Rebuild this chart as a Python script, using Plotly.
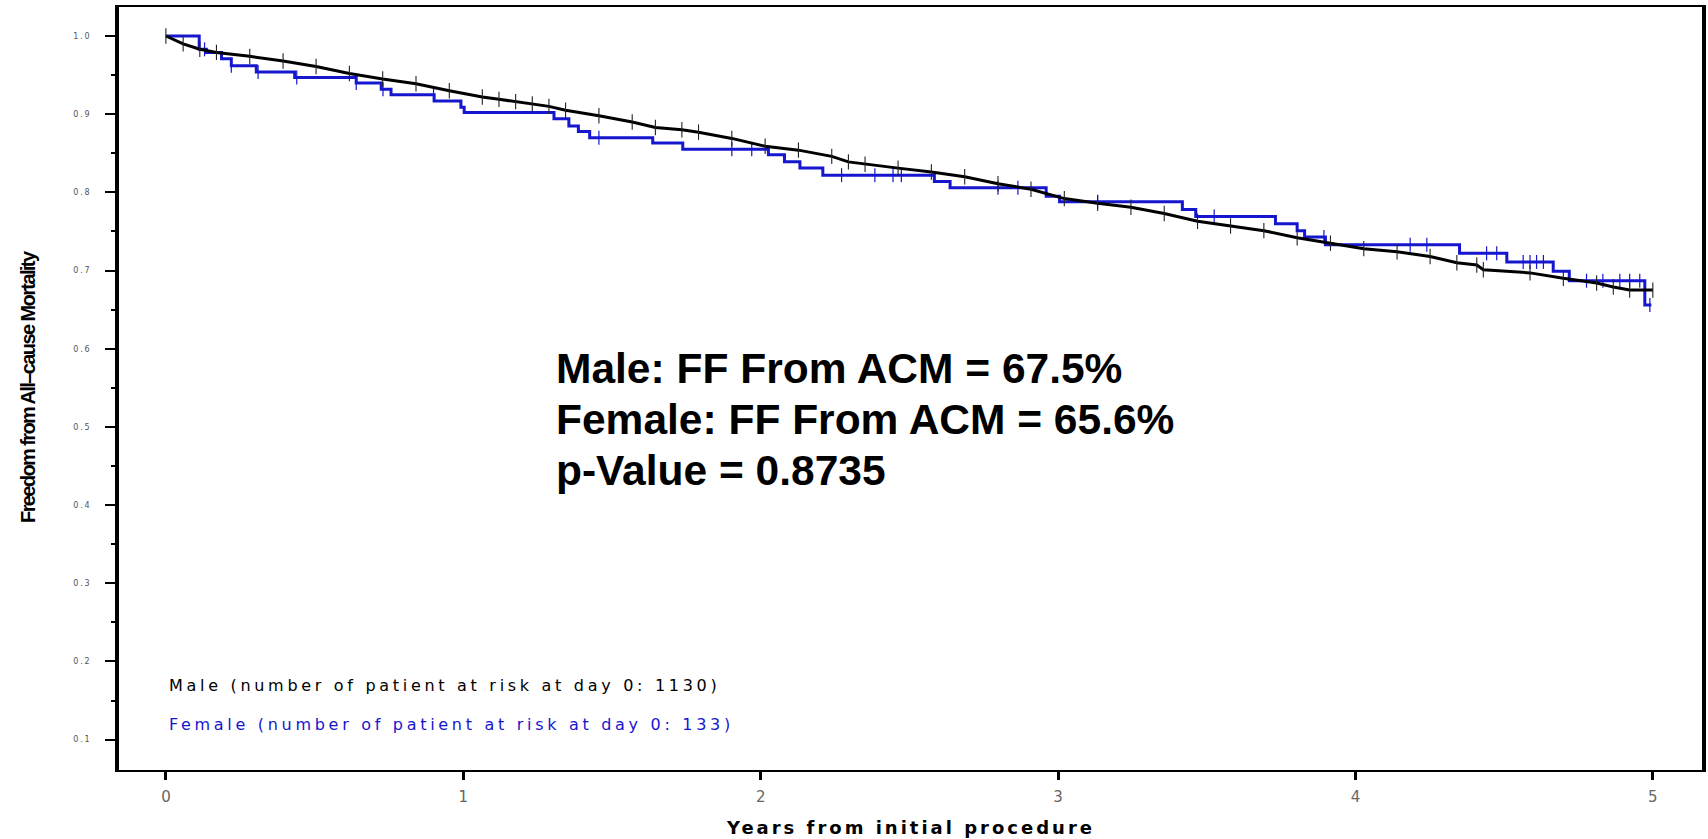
import plotly.graph_objects as go

# ---------------- data ----------------
male_t = [0.0, 0.058, 0.114, 0.170, 0.282, 0.394, 0.505, 0.617, 0.729, 0.841, 0.953,
          1.064, 1.120, 1.176, 1.232, 1.288, 1.344, 1.456, 1.568, 1.646, 1.735, 1.791,
          1.903, 2.015, 2.127, 2.239, 2.295, 2.351, 2.462, 2.574, 2.686, 2.798, 2.909,
          3.021, 3.133, 3.245, 3.357, 3.469, 3.580, 3.692, 3.804, 3.916, 4.028, 4.140,
          4.251, 4.341, 4.408, 4.430, 4.587, 4.699, 4.811, 4.867, 4.922, 5.0]
male_s = [1.0, 0.990, 0.983, 0.979, 0.974, 0.968, 0.961, 0.952, 0.945, 0.939, 0.930,
          0.922, 0.919, 0.916, 0.913, 0.910, 0.905, 0.898, 0.890, 0.883, 0.880, 0.877,
          0.869, 0.859, 0.854, 0.846, 0.839, 0.836, 0.831, 0.826, 0.820, 0.811, 0.804,
          0.792, 0.786, 0.781, 0.773, 0.763, 0.757, 0.751, 0.742, 0.735, 0.728, 0.724,
          0.718, 0.710, 0.707, 0.701, 0.697, 0.690, 0.684, 0.679, 0.675, 0.675]

female_t = [0.0, 0.112, 0.136, 0.187, 0.220, 0.304, 0.433, 0.640, 0.724, 0.757, 0.902,
            0.992, 1.003, 1.305, 1.355, 1.387, 1.425, 1.637, 1.738, 2.026, 2.080, 2.132,
            2.209, 2.584, 2.637, 2.960, 3.005, 3.418, 3.463, 3.731, 3.804, 3.829, 3.899,
            4.350, 4.509, 4.665, 4.719, 4.973, 4.995]
female_s = [1.0, 0.983, 0.979, 0.971, 0.962, 0.954, 0.947, 0.940, 0.932, 0.925, 0.917,
            0.909, 0.902, 0.894, 0.885, 0.878, 0.870, 0.863, 0.855, 0.848, 0.839, 0.831,
            0.822, 0.814, 0.806, 0.795, 0.788, 0.778, 0.769, 0.760, 0.751, 0.743, 0.733,
            0.722, 0.711, 0.699, 0.687, 0.656, 0.656]
female_censor_t = [0.13, 0.22, 0.31, 0.44, 0.64, 0.73, 0.90, 1.456, 1.903, 1.970, 2.272,
                   2.384, 2.445, 2.473, 2.798, 2.865, 3.133, 3.525, 3.894, 4.184, 4.240,
                   4.441, 4.475, 4.564, 4.587, 4.609, 4.632, 4.777, 4.832, 4.889, 4.922,
                   4.956, 4.99]

y_ticks = [0.1, 0.2, 0.3, 0.4, 0.5, 0.6, 0.7, 0.8, 0.9, 1.0]
y_tick_labels = ["0.1", "0.2", "0.3", "0.4", "0.5", "0.6", "0.7", "0.8", "0.9", "1.0"]
y_minor = [0.15, 0.25, 0.35, 0.45, 0.55, 0.65, 0.75, 0.85, 0.95]
x_ticks = [0, 1, 2, 3, 4, 5]
x_tick_labels = ["0", "1", "2", "3", "4", "5"]

male_label = "Male (number of patient at risk at day 0: 1130)"
female_label = "Female (number of patient at risk at day 0: 133)"
stats_lines = ["Male: FF From ACM = 67.5%", "Female: FF From ACM = 65.6%", "p-Value = 0.8735"]
stats_y = [0.5753, 0.5095, 0.4442]
x_title = "Years from initial procedure"
y_title = "Freedom from All\u2013cause Mortality"

BLUE = "#1616cf"


def step_value(ts, ss, t):
    idx = 0
    for i, v in enumerate(ts):
        if v <= t:
            idx = i
    return ss[idx]


female_censor_s = [step_value(female_t, female_s, t) for t in female_censor_t]


def spaced(text, px):
    return '<span style="letter-spacing:%spx">%s</span>' % (px, text)


fig = go.Figure()

fig.add_trace(go.Scatter(
    x=female_t, y=female_s, mode="lines", line=dict(color=BLUE, width=3, shape="hv"),
    showlegend=False, hoverinfo="skip"))
fig.add_trace(go.Scatter(
    x=female_censor_t, y=female_censor_s, mode="markers",
    marker=dict(symbol="line-ns-open", size=10, color=BLUE, line=dict(color=BLUE, width=1.2)),
    showlegend=False, hoverinfo="skip"))
fig.add_trace(go.Scatter(
    x=male_t, y=male_s, mode="lines+markers", line=dict(color="black", width=3),
    marker=dict(symbol="line-ns-open", size=11, color="#222", line=dict(color="#222", width=1.1)),
    showlegend=False, hoverinfo="skip"))

# legend-like labels
fig.add_annotation(x=0.003, y=0.1688, xref="x", yref="y", text=spaced(male_label, 3.7),
                   showarrow=False, xanchor="left", yanchor="middle",
                   font=dict(family="DejaVu Sans", size=16, color="black"))
fig.add_annotation(x=0.003, y=0.119, xref="x", yref="y", text=spaced(female_label, 3.7),
                   showarrow=False, xanchor="left", yanchor="middle",
                   font=dict(family="DejaVu Sans", size=16, color=BLUE))

# stats block
for line, yv in zip(stats_lines, stats_y):
    fig.add_annotation(x=1.305, y=yv, xref="x", yref="y", text="<b>%s</b>" % line,
                       showarrow=False, xanchor="left", yanchor="middle", align="left",
                       font=dict(family="Liberation Sans", size=42.5, color="black"))

# axis titles (paper coordinates)
fig.add_annotation(x=0.5, y=-0.076, xref="paper", yref="paper",
                   text="<b>%s</b>" % spaced(x_title, 3),
                   showarrow=False, xanchor="center", yanchor="middle",
                   font=dict(family="DejaVu Sans", size=18, color="black"))
fig.add_annotation(x=-0.0575, y=0.5033, xref="paper", yref="paper",
                   text="<b>%s</b>" % spaced(y_title, -1.6),
                   showarrow=False, xanchor="center", yanchor="middle", textangle=-90,
                   font=dict(family="Liberation Sans", size=20, color="black"))

fig.update_xaxes(
    range=[-0.1577, 5.1653], tickvals=x_ticks, ticktext=x_tick_labels,
    ticks="outside", ticklen=8, tickwidth=3, tickcolor="black",
    showline=True, linewidth=2, linecolor="black", mirror=True,
    showgrid=False, zeroline=False,
    tickfont=dict(family="DejaVu Sans", size=15, color="#666"), ticklabelstandoff=4)
fig.update_yaxes(
    range=[0.0611, 1.0371], tickvals=y_ticks,
    ticktext=[spaced(t, 1.8) for t in y_tick_labels],
    ticks="outside", ticklen=10, tickwidth=2, tickcolor="black",
    minor=dict(tickvals=y_minor, ticks="outside", ticklen=4, tickwidth=2, tickcolor="black"),
    showline=True, linewidth=4, linecolor="black", mirror=True,
    showgrid=False, zeroline=False,
    tickfont=dict(family="DejaVu Sans", size=8, color="#555"), ticklabelstandoff=12)

fig.update_layout(
    width=1708, height=839, autosize=False,
    margin=dict(l=119, r=2, t=7, b=69, pad=0),
    paper_bgcolor="white", plot_bgcolor="white", showlegend=False)

fig.write_html("out.html", config={"displayModeBar": False},
               post_script="document.body.style.margin='0';document.body.style.overflow='hidden';")
